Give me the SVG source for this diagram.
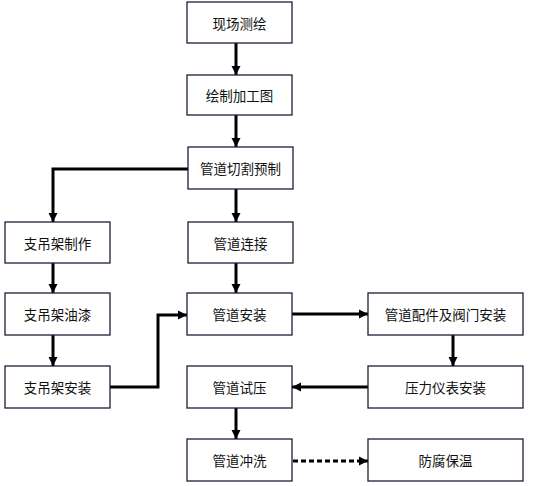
<svg xmlns="http://www.w3.org/2000/svg" width="533" height="486" viewBox="0 0 533 486">
<style>
.box{fill:#fff;stroke:#1e1e38;stroke-width:1.3}
.t{font-family:"Noto Sans CJK SC","Noto Sans",sans-serif;font-size:13.5px;fill:#111;text-anchor:middle;dominant-baseline:central}
.c{fill:none;stroke:#000;stroke-width:3}
</style>
<defs>
<marker id="ah" markerUnits="userSpaceOnUse" markerWidth="10" markerHeight="10" refX="9" refY="5" orient="auto">
<path d="M0,0.5 L9,5 L0,9.5 Z" fill="#000"/>
</marker>
</defs>
<rect width="533" height="486" fill="#fff"/>
<g id="connectors">
<path class="c" d="M236,43 V75" marker-end="url(#ah)"/>
<path class="c" d="M236,115 V147" marker-end="url(#ah)"/>
<path class="c" d="M236,189 V222" marker-end="url(#ah)"/>
<path class="c" d="M188,169 H53 V222" marker-end="url(#ah)"/>
<path class="c" d="M236,263 V293" marker-end="url(#ah)"/>
<path class="c" d="M53,263 V293" marker-end="url(#ah)"/>
<path class="c" d="M53,335 V366" marker-end="url(#ah)"/>
<path class="c" d="M110,387 H158 V315 H187" marker-end="url(#ah)"/>
<path class="c" d="M292,314 H368" marker-end="url(#ah)"/>
<path class="c" d="M453,335 V366" marker-end="url(#ah)"/>
<path class="c" d="M368,387 H292" marker-end="url(#ah)"/>
<path class="c" d="M236,408 V439" marker-end="url(#ah)"/>
<path class="c" d="M293,461 H368" stroke-dasharray="5,3" marker-end="url(#ah)"/>
</g>
<g id="n1"><rect class="box" x="187" y="2" width="105" height="41"/><text class="t" x="239.5" y="22.5">现场测绘</text></g>
<g id="n2"><rect class="box" x="187" y="75" width="105" height="40"/><text class="t" x="239.5" y="95">绘制加工图</text></g>
<g id="n3"><rect class="box" x="188" y="147" width="105" height="42"/><text class="t" x="240.5" y="168">管道切割预制</text></g>
<g id="n4"><rect class="box" x="5" y="222" width="105" height="41"/><text class="t" x="57.5" y="242.5">支吊架制作</text></g>
<g id="n5"><rect class="box" x="188" y="222" width="105" height="41"/><text class="t" x="240.5" y="242.5">管道连接</text></g>
<g id="n6"><rect class="box" x="5" y="293" width="105" height="42"/><text class="t" x="57.5" y="314">支吊架油漆</text></g>
<g id="n7"><rect class="box" x="187" y="293" width="105" height="42"/><text class="t" x="239.5" y="314">管道安装</text></g>
<g id="n8"><rect class="box" x="368" y="293" width="155" height="42"/><text class="t" x="445.5" y="314">管道配件及阀门安装</text></g>
<g id="n9"><rect class="box" x="5" y="366" width="105" height="42"/><text class="t" x="57.5" y="387">支吊架安装</text></g>
<g id="n10"><rect class="box" x="187" y="366" width="105" height="42"/><text class="t" x="239.5" y="387">管道试压</text></g>
<g id="n11"><rect class="box" x="368" y="366" width="155" height="42"/><text class="t" x="445.5" y="387">压力仪表安装</text></g>
<g id="n12"><rect class="box" x="187" y="439" width="105" height="42"/><text class="t" x="239.5" y="460">管道冲洗</text></g>
<g id="n13"><rect class="box" x="368" y="439" width="155" height="42"/><text class="t" x="445.5" y="460">防腐保温</text></g>
</svg>
